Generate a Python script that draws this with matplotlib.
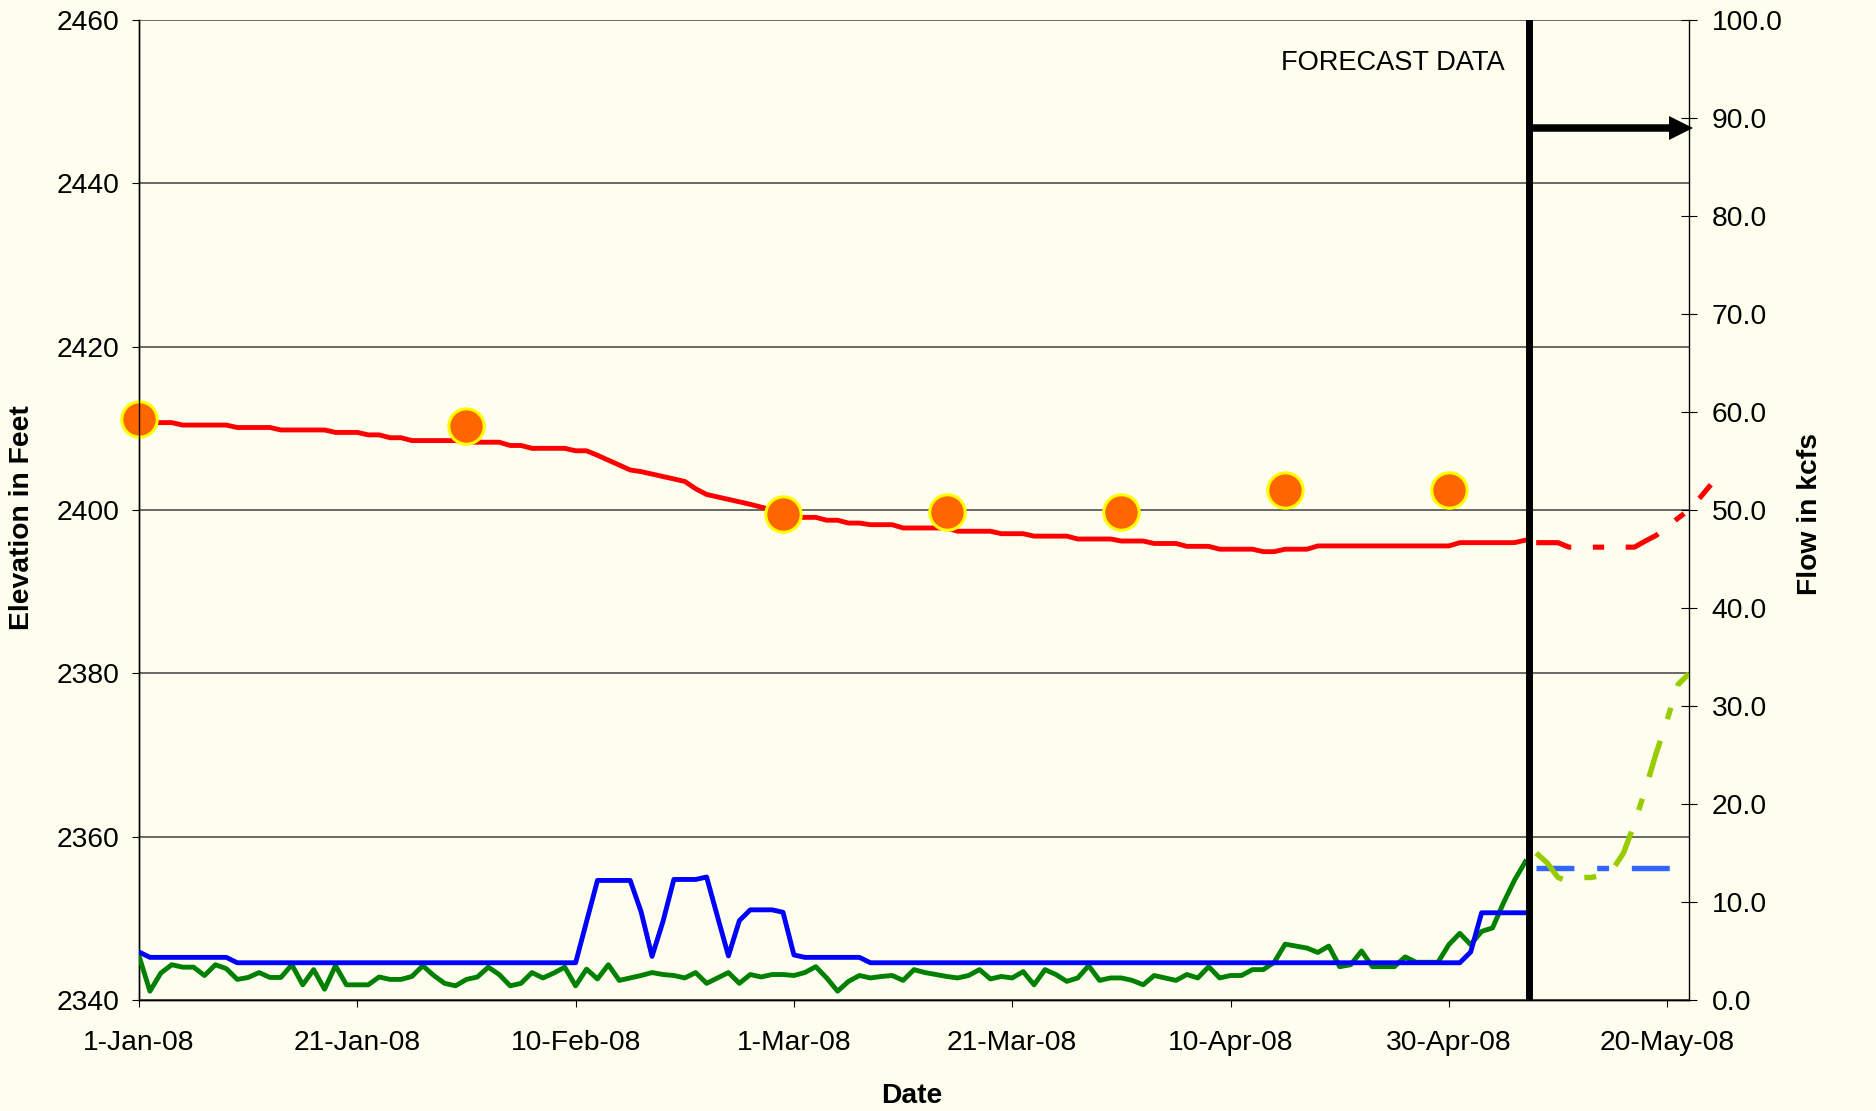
import matplotlib
matplotlib.use("Agg")
import matplotlib.pyplot as plt
import numpy as np

plt.rcParams["font.family"] = ["Liberation Sans", "DejaVu Sans"]

# x axis: day index from 1-Jan-08
TICK_DAYS = [0, 20, 40, 60, 80, 100, 120, 140]
TICK_LABELS = ["1-Jan-08", "21-Jan-08", "10-Feb-08", "1-Mar-08",
               "21-Mar-08", "10-Apr-08", "30-Apr-08", "20-May-08"]
ELEV_TICKS = [2340, 2360, 2380, 2400, 2420, 2440, 2460]
FLOW_TICKS = [0, 10, 20, 30, 40, 50, 60, 70, 80, 90, 100]

# observed, 1-Jan to 7-May (daily)
elevation = [
    2410.8, 2410.7, 2410.7, 2410.7, 2410.4, 2410.4, 2410.4, 2410.4, 2410.4, 2410.1,
    2410.1, 2410.1, 2410.1, 2409.8, 2409.8, 2409.8, 2409.8, 2409.8, 2409.5, 2409.5,
    2409.5, 2409.2, 2409.2, 2408.85, 2408.85, 2408.5, 2408.5, 2408.5, 2408.5, 2408.5,
    2408.3, 2408.3, 2408.3, 2408.3, 2407.9, 2407.9, 2407.55, 2407.55, 2407.55, 2407.55,
    2407.25, 2407.25, 2406.7, 2406.1, 2405.5, 2404.9, 2404.7, 2404.4, 2404.1, 2403.8,
    2403.5, 2402.6, 2401.9, 2401.6, 2401.3, 2401.0, 2400.7, 2400.35, 2400.0, 2399.6,
    2399.1, 2399.1, 2399.1, 2398.75, 2398.75, 2398.4, 2398.4, 2398.2, 2398.2, 2398.2,
    2397.8, 2397.8, 2397.8, 2397.8, 2397.8, 2397.4, 2397.4, 2397.4, 2397.4, 2397.1,
    2397.1, 2397.1, 2396.8, 2396.8, 2396.8, 2396.8, 2396.45, 2396.45, 2396.45, 2396.45,
    2396.2, 2396.2, 2396.2, 2395.9, 2395.9, 2395.9, 2395.55, 2395.55, 2395.55, 2395.2,
    2395.2, 2395.2, 2395.2, 2394.9, 2394.9, 2395.2, 2395.2, 2395.2, 2395.6, 2395.6,
    2395.6, 2395.6, 2395.6, 2395.6, 2395.6, 2395.6, 2395.6, 2395.6, 2395.6, 2395.6,
    2395.6, 2396.0, 2396.0, 2396.0, 2396.0, 2396.0, 2396.0, 2396.3,
]
outflow = [
    4.9, 4.35, 4.35, 4.35, 4.35, 4.35, 4.35, 4.35, 4.35, 3.8,
    3.8, 3.8, 3.8, 3.8, 3.8, 3.8, 3.8, 3.8, 3.8, 3.8,
    3.8, 3.8, 3.8, 3.8, 3.8, 3.8, 3.8, 3.8, 3.8, 3.8,
    3.8, 3.8, 3.8, 3.8, 3.8, 3.8, 3.8, 3.8, 3.8, 3.8,
    3.8, 8.0, 12.2, 12.2, 12.2, 12.2, 9.0, 4.45, 8.0, 12.3,
    12.3, 12.3, 12.55, 8.5, 4.5, 8.1, 9.2, 9.2, 9.2, 8.95,
    4.6, 4.35, 4.35, 4.35, 4.35, 4.35, 4.35, 3.8, 3.8, 3.8,
    3.8, 3.8, 3.8, 3.8, 3.8, 3.8, 3.8, 3.8, 3.8, 3.8,
    3.8, 3.8, 3.8, 3.8, 3.8, 3.8, 3.8, 3.8, 3.8, 3.8,
    3.8, 3.8, 3.8, 3.8, 3.8, 3.8, 3.8, 3.8, 3.8, 3.8,
    3.8, 3.8, 3.8, 3.8, 3.8, 3.8, 3.8, 3.8, 3.8, 3.8,
    3.8, 3.8, 3.8, 3.8, 3.8, 3.8, 3.8, 3.8, 3.8, 3.8,
    3.8, 3.8, 4.9, 8.9, 8.9, 8.9, 8.9, 8.9,
]
inflow = [
    4.5, 0.9, 2.75, 3.6, 3.35, 3.35, 2.5, 3.6, 3.2, 2.1,
    2.3, 2.8, 2.3, 2.3, 3.6, 1.55, 3.1, 1.1, 3.5, 1.55,
    1.55, 1.55, 2.35, 2.1, 2.1, 2.4, 3.5, 2.5, 1.7, 1.45,
    2.1, 2.35, 3.35, 2.6, 1.45, 1.7, 2.8, 2.25, 2.75, 3.35,
    1.45, 3.15, 2.15, 3.6, 2.0, 2.25, 2.5, 2.8, 2.6, 2.5,
    2.25, 2.8, 1.7, 2.25, 2.8, 1.7, 2.6, 2.35, 2.6, 2.6,
    2.5, 2.8, 3.4, 2.25, 0.9, 1.9, 2.5, 2.25, 2.4, 2.5,
    2.0, 3.1, 2.8, 2.6, 2.4, 2.25, 2.5, 3.1, 2.15, 2.4,
    2.25, 2.9, 1.55, 3.1, 2.6, 1.9, 2.25, 3.5, 2.0, 2.25,
    2.25, 2.0, 1.55, 2.5, 2.25, 2.0, 2.6, 2.25, 3.4, 2.25,
    2.5, 2.5, 3.1, 3.1, 3.85, 5.7, 5.5, 5.3, 4.85, 5.5,
    3.4, 3.6, 5.0, 3.4, 3.4, 3.4, 4.4, 3.85, 3.85, 3.85,
    5.65, 6.8, 5.65, 7.0, 7.35, 9.9, 12.2, 14.1,
]

# forecast, from 8-May
elev_forecast = [2396.0, 2396.0, 2396.0, 2395.45, 2395.45, 2395.45, 2395.45, 2395.45,
                 2395.45, 2395.45, 2396.2, 2396.9, 2397.9, 2399.0, 2400.0, 2401.5, 2403.1]
outflow_forecast = [13.5, 13.5, 13.5, 13.5, 13.5, 13.5, 13.5, 13.5,
                    13.5, 13.5, 13.5, 13.5, 13.5, 13.5, 13.5]
inflow_forecast = [15.0, 14.0, 12.5, 12.1, 12.5, 12.5, 12.7, 13.3,
                   15.0, 18.0, 21.5, 25.2, 28.6, 32.2, 33.3]

# rule-curve targets
target_days = [0, 30, 59, 74, 90, 105, 120]
target_elev = [2411.2, 2410.25, 2399.5, 2399.8, 2399.8, 2402.4, 2402.4]

FORECAST_DAY = 127.35
BG = "#FEFEEF"
DASH = (7.0, 4.2, 2.2, 4.2)
FS = 20.3


def main():
    obs_days = np.arange(len(elevation))
    fc_elev_days = len(elevation) + np.arange(len(elev_forecast))
    fc_flow_days = len(elevation) + np.arange(len(inflow_forecast))

    fig = plt.figure(figsize=(18.76, 11.11), dpi=100, facecolor=BG)
    ax = fig.add_axes([139 / 1876, 111 / 1111, 1550 / 1876, 980 / 1111])
    ax.set_facecolor(BG)
    ax2 = ax.twinx()

    # elevation (left axis)
    ax.plot(obs_days, elevation, color="#FF0000", lw=3.5, zorder=3)
    ax.plot(fc_elev_days, elev_forecast, color="#FF0000", lw=3.7, dashes=DASH,
            zorder=3, clip_on=False)
    ax.plot(target_days, target_elev, ls="none", marker="o", ms=25.5, mfc="#FF6600",
            mec="#FFFF00", mew=2.2, zorder=4, clip_on=False)

    # flows (right axis)
    ax2.plot(obs_days, inflow, color="#008000", lw=3.5, zorder=3)
    ax2.plot(obs_days, outflow, color="#0000FF", lw=3.5, zorder=3)
    ax2.plot(fc_flow_days, outflow_forecast, color="#3366FF", lw=3.9, dashes=DASH, zorder=3)
    ax2.plot(fc_flow_days, inflow_forecast, color="#99CC00", lw=3.9, dashes=DASH, zorder=3)

    # forecast marker line + arrow
    ax2.axvline(FORECAST_DAY, color="black", lw=5.0, zorder=5)
    ax2.plot([FORECAST_DAY, 141.3], [89, 89], color="black", lw=5.4,
             solid_capstyle="butt", zorder=5)
    ax2.plot([141.25], [89], marker=">", ms=17, color="black", mew=0,
             zorder=5, clip_on=False)
    ax2.text(125.1, 95.6, "FORECAST DATA", ha="right", va="center", fontsize=19.6)

    ax.set_xlim(0, 142)
    ax.set_ylim(2340, 2460)
    ax2.set_ylim(0, 100)
    ax.set_xticks(TICK_DAYS, TICK_LABELS)
    ax.set_yticks(ELEV_TICKS)
    ax2.set_yticks(FLOW_TICKS, [f"{v:.1f}" for v in FLOW_TICKS])

    ax.yaxis.grid(True, color="#404040", lw=1.1)
    ax.set_axisbelow(True)

    for a in (ax, ax2):
        a.spines["top"].set_visible(False)
        for s in ("left", "right", "bottom"):
            a.spines[s].set_color("black")
            a.spines[s].set_linewidth(1.0)
    ax.spines["right"].set_visible(False)

    ax.tick_params(axis="y", direction="out", length=5, width=0.8, pad=9, labelsize=FS)
    ax.tick_params(axis="x", direction="out", length=5, width=0.8, pad=16.5, labelsize=FS)
    ax2.tick_params(axis="y", direction="inout", length=11.5, width=0.8, pad=10.5,
                    labelsize=FS)

    fig.text(0.0115, 0.534, "Elevation in Feet", rotation=90, ha="center", va="center",
             fontsize=FS, fontweight="bold")
    fig.text(0.9648, 0.537, "Flow in kcfs", rotation=90, ha="center", va="center",
             fontsize=FS, fontweight="bold")
    fig.text(0.486, 0.0135, "Date", ha="center", va="center", fontsize=FS,
             fontweight="bold")

    fig.savefig("out.png", dpi=100, facecolor=BG)
    plt.close(fig)


if __name__ == "__main__":
    main()
